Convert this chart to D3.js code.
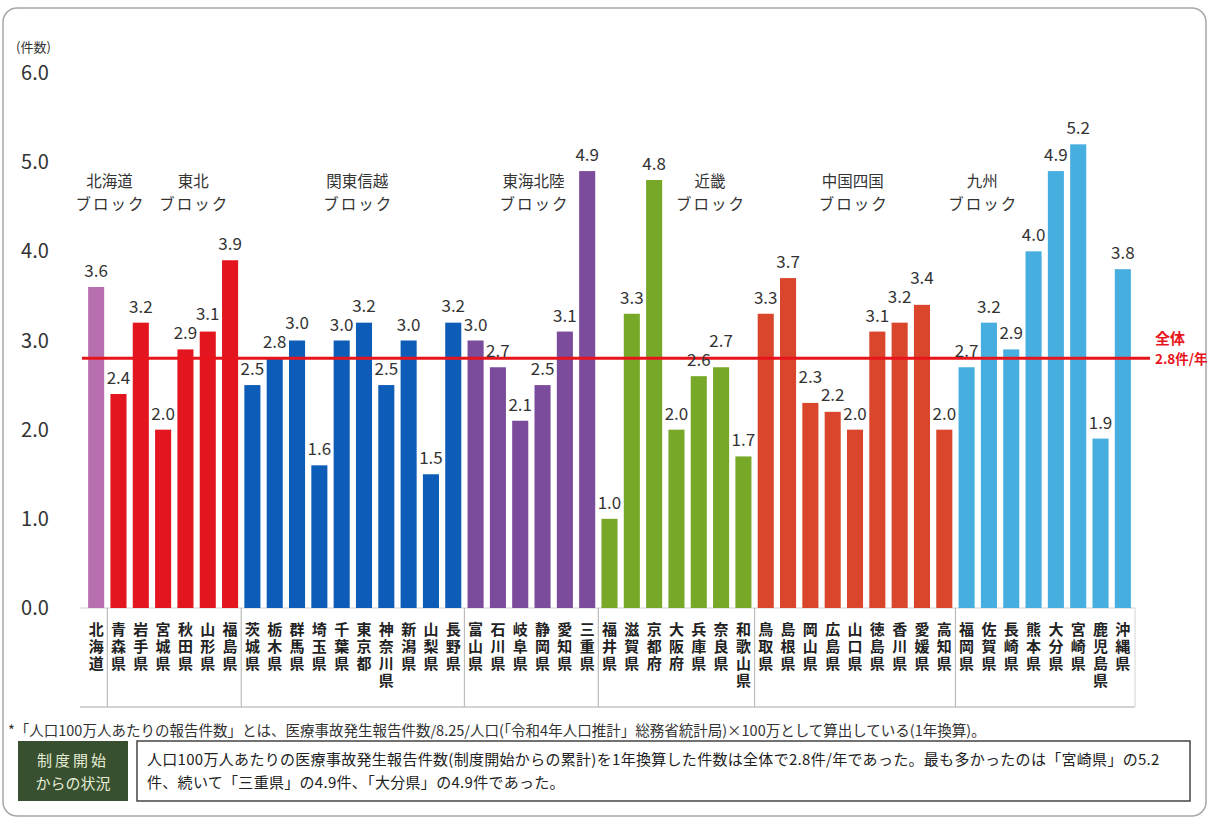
<!DOCTYPE html>
<html>
<head>
<meta charset="utf-8">
<script src="https://cdn.jsdelivr.net/npm/d3@7"></script>
<style>
  body { margin: 0; background: #fff; }
  svg text { font-family: "Noto Sans CJK JP", "Noto Sans", sans-serif; }
</style>
</head>
<body>
<svg id="chart" width="1210" height="820"></svg>
<script>

// prefectures in chart order
var prefectures = ['北海道',
    '青森県', '岩手県', '宮城県', '秋田県', '山形県', '福島県',
    '茨城県', '栃木県', '群馬県', '埼玉県', '千葉県', '東京都', '神奈川県', '新潟県', '山梨県', '長野県',
    '富山県', '石川県', '岐阜県', '静岡県', '愛知県', '三重県',
    '福井県', '滋賀県', '京都府', '大阪府', '兵庫県', '奈良県', '和歌山県',
    '鳥取県', '島根県', '岡山県', '広島県', '山口県', '徳島県', '香川県', '愛媛県', '高知県',
    '福岡県', '佐賀県', '長崎県', '熊本県', '大分県', '宮崎県', '鹿児島県', '沖縄県'];

// reports per 1M population per year
var values = [3.6,
    2.4, 3.2, 2.0, 2.9, 3.1, 3.9,
    2.5, 2.8, 3.0, 1.6, 3.0, 3.2, 2.5, 3.0, 1.5, 3.2,
    3.0, 2.7, 2.1, 2.5, 3.1, 4.9,
    1.0, 3.3, 4.8, 2.0, 2.6, 2.7, 1.7,
    3.3, 3.7, 2.3, 2.2, 2.0, 3.1, 3.2, 3.4, 2.0,
    2.7, 3.2, 2.9, 4.0, 4.9, 5.2, 1.9, 3.8];

var blockNames = ['北海道', '東北', '関東信越', '東海北陸', '近畿', '中国四国', '九州'];
var blockSizes = [1, 6, 10, 6, 7, 9, 8];
var blockColors = ['#b86fb0', '#e3161f', '#0d5db8', '#7b4b9c', '#78a828', '#d9462b', '#47aee0'];

var yTicks = [0, 1, 2, 3, 4, 5, 6];
var overall = 2.8;

// where each block title sits, as a fractional bar index
var blockLabelAt = [0.6, 4.35, 11.7, 19.6, 27.5, 33.9, 39.7];

var footnote = '*「人口100万人あたりの報告件数」とは、医療事故発生報告件数/8.25/人口(「令和4年人口推計」総務省統計局)×100万として算出している(1年換算)。';
var summaryLines = [
    '人口100万人あたりの医療事故発生報告件数(制度開始からの累計)を1年換算した件数は全体で2.8件/年であった。最も多かったのは「宮崎県」の5.2',
    '件、続いて「三重県」の4.9件、「大分県」の4.9件であった。'
];


var svg = d3.select('#chart');

// block index for each bar
var blockOf = [];
blockSizes.forEach(function(n, b) {
    for (var k = 0; k < n; k++) blockOf.push(b);
});

var data = prefectures.map(function(p, i) {
    return { name: p, value: values[i], block: blockOf[i] };
});

var x = d3.scaleBand()
    .domain(prefectures)
    .range([85, 1134])
    .paddingInner(0.28)
    .paddingOuter(0.14);

var y = d3.scaleLinear()
    .domain([0, 6])
    .range([608, 73]);

var step = x.step();
var firstCenter = x(prefectures[0]) + x.bandwidth() / 2;

// outer frame
svg.append('rect')
    .attr('x', 3).attr('y', 8)
    .attr('width', 1203).attr('height', 808)
    .attr('rx', 14)
    .attr('fill', 'none')
    .attr('stroke', '#a8a8a8')
    .attr('stroke-width', 1.5);

// y axis labels
svg.append('text')
    .attr('x', 16).attr('y', 52)
    .attr('font-size', 13)
    .attr('fill', '#333')
    .text('(件数)');

svg.selectAll('.ytick')
    .data(yTicks)
    .enter().append('text')
    .attr('class', 'ytick')
    .attr('x', 35)
    .attr('y', function(d) { return y(d) + 7; })
    .attr('text-anchor', 'middle')
    .attr('font-size', 20)
    .attr('fill', '#333')
    .text(function(d) { return d3.format('.1f')(d); });

// category table lines
var tableTop = y(0), tableBottom = 707;

svg.append('line')
    .attr('x1', 80).attr('x2', 1135)
    .attr('y1', tableTop).attr('y2', tableTop)
    .attr('stroke', '#d0d0d0');

svg.append('line')
    .attr('x1', 80).attr('x2', 1135)
    .attr('y1', tableBottom).attr('y2', tableBottom)
    .attr('stroke', '#c4c4c4')
    .attr('stroke-width', 1.5);

var cum = 0;
var separators = [];
blockSizes.forEach(function(n, b) {
    cum += n;
    if (b < blockSizes.length - 1) separators.push(cum);
});

svg.selectAll('.sep')
    .data(separators)
    .enter().append('line')
    .attr('class', 'sep')
    .attr('x1', function(i) { return x(prefectures[i]) - (step - x.bandwidth()) / 2; })
    .attr('x2', function(i) { return x(prefectures[i]) - (step - x.bandwidth()) / 2; })
    .attr('y1', tableTop).attr('y2', tableBottom)
    .attr('stroke', '#bcbcbc')
    .attr('stroke-width', 1.2);

svg.append('line')
    .attr('x1', 1135).attr('x2', 1135)
    .attr('y1', tableTop).attr('y2', tableBottom)
    .attr('stroke', '#d4d4d4');

// bars
svg.selectAll('.bar')
    .data(data)
    .enter().append('rect')
    .attr('class', 'bar')
    .attr('x', function(d) { return x(d.name); })
    .attr('y', function(d) { return y(d.value); })
    .attr('width', x.bandwidth())
    .attr('height', function(d) { return y(0) - y(d.value); })
    .attr('fill', function(d) { return blockColors[d.block]; });

// overall line
svg.append('line')
    .attr('x1', 82).attr('x2', 1150)
    .attr('y1', y(overall)).attr('y2', y(overall))
    .attr('stroke', '#e8141c')
    .attr('stroke-width', 3);

svg.append('text')
    .attr('x', 1155).attr('y', y(overall) - 14)
    .attr('font-size', 15)
    .attr('font-weight', 'bold')
    .attr('fill', '#e8141c')
    .text('全体');

svg.append('text')
    .attr('x', 1155).attr('y', y(overall) + 6)
    .attr('font-size', 13.5)
    .attr('font-weight', 'bold')
    .attr('fill', '#e8141c')
    .text(overall.toFixed(1) + '件/年');

// value labels, nudged up when they bump into the neighbour
data.forEach(function(d) {
    d.lx = x(d.name) + x.bandwidth() / 2;
    d.ly = y(d.value) - 10;
});

for (var i = 1; i < data.length; i++) {
    var a = data[i - 1], b = data[i];
    if (Math.abs(a.lx - b.lx) < 28 && Math.abs(a.ly - b.ly) < 19) {
        if (b.value >= a.value) b.ly = a.ly - 19;
        else a.ly = b.ly - 19;
    }
}

svg.selectAll('.val')
    .data(data)
    .enter().append('text')
    .attr('class', 'val')
    .attr('x', function(d) { return d.lx; })
    .attr('y', function(d) { return d.ly; })
    .attr('text-anchor', 'middle')
    .attr('font-size', 17)
    .attr('fill', '#333')
    .text(function(d) { return d.value.toFixed(1); });

// vertical category labels
svg.selectAll('.cat')
    .data(data)
    .enter().append('text')
    .attr('class', 'cat')
    .attr('x', function(d) { return x(d.name) + x.bandwidth() / 2; })
    .attr('y', 622)
    .style('writing-mode', 'vertical-rl')
    .attr('letter-spacing', 2)
    .attr('font-size', 15)
    .attr('font-weight', 'bold')
    .attr('fill', '#222')
    .text(function(d) { return d.name; });

// block titles
var titleX = function(d, i) { return firstCenter + blockLabelAt[i] * step; };

svg.selectAll('.block1')
    .data(blockNames)
    .enter().append('text')
    .attr('class', 'block1')
    .attr('x', titleX)
    .attr('y', 187)
    .attr('text-anchor', 'middle')
    .attr('font-size', 15.5)
    .attr('fill', '#333')
    .text(function(d) { return d; });

svg.selectAll('.block2')
    .data(blockNames)
    .enter().append('text')
    .attr('class', 'block2')
    .attr('x', function(d, i) { return titleX(d, i) + 1; })
    .attr('y', 210)
    .attr('text-anchor', 'middle')
    .attr('font-size', 15.5)
    .attr('letter-spacing', 2)
    .attr('fill', '#333')
    .text('ブロック');

// footnote
svg.append('text')
    .attr('x', 8).attr('y', 736)
    .attr('font-size', 14.5)
    .attr('fill', '#333')
    .text(footnote);

// status box
svg.append('rect')
    .attr('x', 18).attr('y', 741)
    .attr('width', 110).attr('height', 60)
    .attr('fill', '#38502f');

svg.append('text')
    .attr('x', 73).attr('y', 766)
    .attr('text-anchor', 'middle')
    .attr('font-size', 15)
    .attr('letter-spacing', 3)
    .attr('fill', '#e4ecd6')
    .text('制度開始');

svg.append('text')
    .attr('x', 73).attr('y', 789)
    .attr('text-anchor', 'middle')
    .attr('font-size', 15)
    .attr('fill', '#e4ecd6')
    .text('からの状況');

svg.append('rect')
    .attr('x', 137).attr('y', 741)
    .attr('width', 1053).attr('height', 60)
    .attr('fill', '#fff')
    .attr('stroke', '#444')
    .attr('stroke-width', 1.5);

svg.selectAll('.summary')
    .data(summaryLines)
    .enter().append('text')
    .attr('class', 'summary')
    .attr('x', 147)
    .attr('y', function(d, i) { return 765 + i * 23; })
    .attr('font-size', 15)
    .attr('letter-spacing', 0.3)
    .attr('fill', '#222')
    .text(function(d) { return d; });

</script>
</body>
</html>
